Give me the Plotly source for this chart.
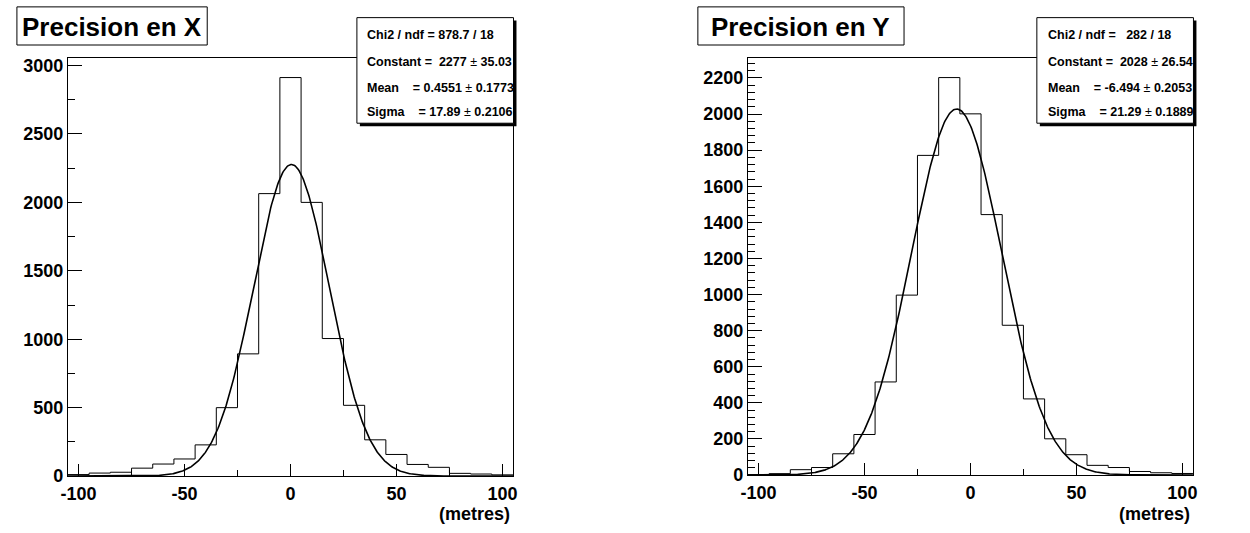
import numpy as np
import plotly.graph_objects as go

# ---------------- data ----------------
bin_edges = [-105, -95, -85, -75, -65, -55, -45, -35, -25, -15, -5,
             5, 15, 25, 35, 45, 55, 65, 75, 85, 95, 105]
counts_x = [11, 22, 28, 58, 88, 125, 228, 500, 893, 2064, 2912,
            2000, 1005, 517, 265, 158, 85, 64, 20, 15, 9]
counts_y = [3, 8, 30, 42, 118, 225, 516, 997, 1771, 2202, 2001,
            1443, 830, 422, 201, 113, 54, 42, 20, 13, 9]

fit_x = {"const": 2277, "mean": 0.4551, "sigma": 17.89}
fit_y = {"const": 2028, "mean": -6.494, "sigma": 21.29}

x_tickvals = [-100, -50, 0, 50, 100]
x_ticktext = ["-100", "-50", "0", "50", "100"]
y1_tickvals = [0, 500, 1000, 1500, 2000, 2500, 3000]
y1_ticktext = ["0", "500", "1000", "1500", "2000", "2500", "3000"]
y2_tickvals = [0, 200, 400, 600, 800, 1000, 1200, 1400, 1600, 1800, 2000, 2200]
y2_ticktext = ["0", "200", "400", "600", "800", "1000", "1200", "1400",
               "1600", "1800", "2000", "2200"]

titles = ["Precision en X", "Precision en Y"]
x_title = "(metres)"
y_ranges = [[0, 3057], [0, 2312]]
y_minor = [250, 40]

NB = "\u00a0"
PM = "<span style='font-weight:normal'>\u00b1</span>"
stats_lines_x = ["Chi2 / ndf = 878.7 / 18",
                 "Constant =" + NB * 2 + "2277 " + PM + " 35.03",
                 "Mean" + NB * 4 + "= 0.4551 " + PM + " 0.1773",
                 "Sigma" + NB * 4 + "= 17.89 " + PM + " 0.2106"]
stats_lines_y = ["Chi2 / ndf =" + NB * 3 + "282 / 18",
                 "Constant =" + NB * 2 + "2028 " + PM + " 26.54",
                 "Mean" + NB * 4 + "= -6.494 " + PM + " 0.2053",
                 "Sigma" + NB * 4 + "= 21.29 " + PM + " 0.1889"]

# ---------------- geometry (pixels) ----------------
W, H = 1250, 533
def PX(x): return x / W
def PY(y): return 1 - y / H

frames = [dict(x0=61.5, x1=510.5, y0=57, y1=485),
          dict(x0=747.5, x1=1196.5, y0=57, y1=484)]
title_boxes = [dict(x0=10, x1=202, y0=5, y1=44),
               dict(x0=697, x1=905, y0=5, y1=44)]
stat_boxes = [dict(x0=353, x1=511, y0=16, y1=124),
              dict(x0=1039, x1=1197, y0=16, y1=124)]
text_pad = [8, 9]
line_y = [34, 61, 88, 113]

FONT = "Liberation Sans, Arial, Helvetica, sans-serif"
BOLD = "bold"
SF = 12.5  # stats font size

fig = go.Figure()

for i, (counts, fit) in enumerate([(counts_x, fit_x), (counts_y, fit_y)]):
    xa = "x" if i == 0 else "x2"
    ya = "y" if i == 0 else "y2"
    xs = list(bin_edges)
    ys = list(counts) + [counts[-1]]
    fig.add_trace(go.Scatter(x=xs, y=ys, mode="lines", line_shape="hv",
                             line=dict(color="black", width=1),
                             xaxis=xa, yaxis=ya, showlegend=False,
                             hoverinfo="skip"))
    gx = np.linspace(bin_edges[0], bin_edges[-1], 600)
    gy = fit["const"] * np.exp(-0.5 * ((gx - fit["mean"]) / fit["sigma"]) ** 2)
    fig.add_trace(go.Scatter(x=gx, y=gy, mode="lines",
                             line=dict(color="black", width=1.6),
                             xaxis=xa, yaxis=ya, showlegend=False,
                             hoverinfo="skip"))

tickfont = dict(family=FONT, size=18, color="black", weight=BOLD)
layout = dict(width=W, height=H, margin=dict(l=0, r=0, t=0, b=0),
              paper_bgcolor="white", plot_bgcolor="white",
              font=dict(family=FONT, color="black"), showlegend=False)

ytv = [y1_tickvals, y2_tickvals]
ytt = [y1_ticktext, y2_ticktext]
for i in range(2):
    f = frames[i]
    xk = "xaxis" if i == 0 else "xaxis2"
    yk = "yaxis" if i == 0 else "yaxis2"
    layout[xk] = dict(domain=[PX(f["x0"]), PX(f["x1"])],
                      anchor="y" if i == 0 else "y2",
                      range=[bin_edges[0], bin_edges[-1]],
                      tickmode="array", tickvals=x_tickvals,
                      ticktext=["<b>%s</b>" % t for t in x_ticktext],
                      ticks="inside", ticklen=12, tickwidth=1, tickcolor="black",
                      minor=dict(ticks="inside", tickmode="linear", dtick=25,
                                 tick0=0, ticklen=6, tickwidth=1,
                                 tickcolor="black"),
                      ticklabelstandoff=1,
                      showline=True, linecolor="black", linewidth=1, mirror=True,
                      showgrid=False, zeroline=False, tickfont=tickfont,
                      fixedrange=True)
    layout[yk] = dict(domain=[PY(f["y1"]), PY(f["y0"])],
                      anchor="x" if i == 0 else "x2",
                      range=y_ranges[i],
                      tickmode="array", tickvals=ytv[i],
                      ticktext=["<b>%s</b>" % t for t in ytt[i]],
                      ticks="inside", ticklen=14, tickwidth=1, tickcolor="black",
                      minor=dict(ticks="inside", tickmode="linear",
                                 dtick=y_minor[i], tick0=0, ticklen=7,
                                 tickwidth=1, tickcolor="black"),
                      showline=True, linecolor="black", linewidth=1, mirror=True,
                      showgrid=False, zeroline=False, tickfont=tickfont,
                      fixedrange=True)

shapes = []
annotations = []

def ann(text, x, y, anchor, size, weight=BOLD):
    annotations.append(dict(text=text, xref="paper", yref="paper",
                            x=PX(x), y=PY(y), xanchor=anchor, yanchor="middle",
                            showarrow=False,
                            font=dict(family=FONT, size=size, color="black",
                                      weight=weight)))

for i in range(2):
    tb = title_boxes[i]
    shapes.append(dict(type="rect", xref="paper", yref="paper",
                       x0=PX(tb["x0"]), x1=PX(tb["x1"]),
                       y0=PY(tb["y1"]), y1=PY(tb["y0"]),
                       line=dict(color="black", width=1), fillcolor="white",
                       layer="above"))
    ann(titles[i], (tb["x0"] + tb["x1"]) / 2, (tb["y0"] + tb["y1"]) / 2 + 1,
        "center", 26)

    sb = stat_boxes[i]
    shapes.append(dict(type="rect", xref="paper", yref="paper",
                       x0=PX(sb["x0"] + 3), x1=PX(sb["x1"] + 3),
                       y0=PY(sb["y1"] + 3), y1=PY(sb["y0"] + 3),
                       line=dict(color="black", width=0), fillcolor="black",
                       layer="above"))
    shapes.append(dict(type="rect", xref="paper", yref="paper",
                       x0=PX(sb["x0"]), x1=PX(sb["x1"]),
                       y0=PY(sb["y1"]), y1=PY(sb["y0"]),
                       line=dict(color="black", width=1), fillcolor="white",
                       layer="above"))
    lines = stats_lines_x if i == 0 else stats_lines_y
    for k, txt in enumerate(lines):
        ann(txt, sb["x0"] + text_pad[i], line_y[k], "left", SF)

    f = frames[i]
    ann(x_title, f["x1"] - 1, 523.5, "right", 18)

layout["shapes"] = shapes
layout["annotations"] = annotations
fig.update_layout(**layout)
fig.write_html("out.html",
               config={"displayModeBar": False, "staticPlot": True},
               post_script="document.body.style.margin='0';"
                           "document.body.style.overflow='hidden';")
